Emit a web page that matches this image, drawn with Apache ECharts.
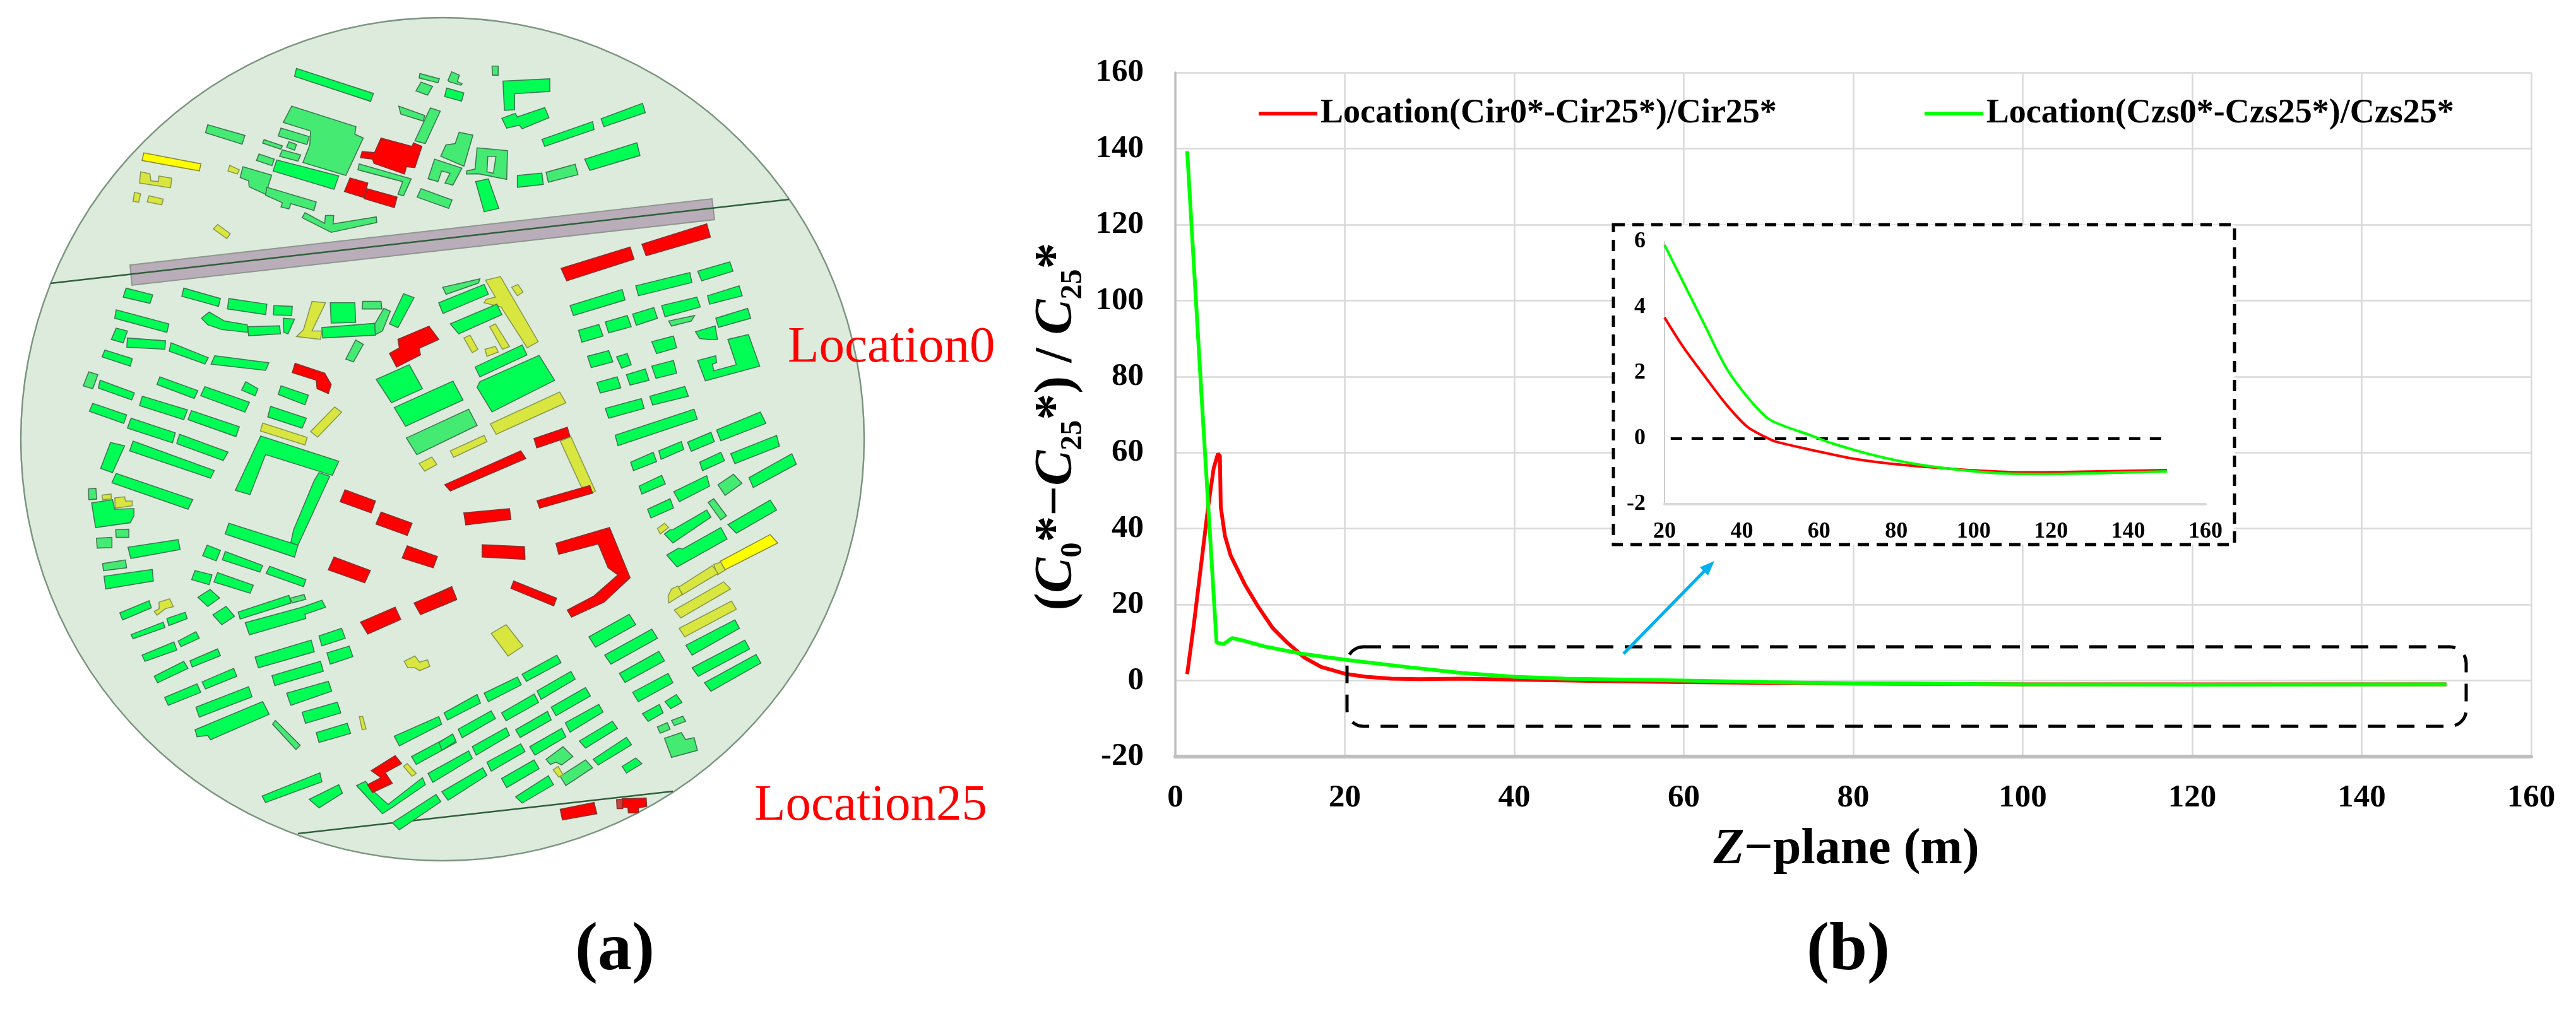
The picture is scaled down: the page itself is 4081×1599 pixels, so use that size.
<!DOCTYPE html>
<html><head><meta charset="utf-8">
<style>html,body{margin:0;padding:0;background:#fff}#c{width:4081px;height:1599px}</style>
<script src="https://cdn.jsdelivr.net/npm/echarts@6/dist/echarts.min.js"></script>
</head><body><div id="c"></div>
<script>
// ---- line chart data (b) ----
const mainCirX=[1.4,2.2,3.04,3.87,4.53,5.03,5.26,5.36,5.86,6.53,8.2,9.85,11.5,13.2,15.2,17.2,20,22.5,25.5,28.8,33.8,40,50,60,70,80,100,120,150];
const mainCirY=[1.7,15,30.4,45.7,55.9,59.7,59.1,45.7,38,32.9,25.3,19.2,13.8,10,6.1,3.6,1.8,1,0.5,0.4,0.5,0.25,-0.1,-0.4,-0.6,-0.8,-1,-1,-1];
const mainCzsX=[1.4,3.2,4.87,5.7,6.7,7.85,10.5,14.8,20,27.2,33.8,40,46,60,70,80,100,120,150];
const mainCzsY=[139.3,71,10,9.6,11.2,10.6,9,7.1,5.5,3.6,2,1,0.5,0,-0.4,-0.75,-1,-1.05,-1];
const insetCirX=[20,24.9,30.4,35.9,41.3,45.7,49,57.8,68.7,79.7,90.6,101.5,112.5,123.4,150];
const insetCirY=[3.69,2.78,1.9,1.05,0.37,0.07,-0.1,-0.34,-0.61,-0.78,-0.89,-0.98,-1.03,-1.02,-0.96];
const insetCzsX=[20,24.9,30.4,35.9,41.3,46.8,51.2,57.8,63.2,74.2,85.1,96.1,107,118,134.4,150];
const insetCzsY=[5.9,4.75,3.46,2.17,1.29,0.61,0.37,0.1,-0.14,-0.51,-0.78,-0.95,-1.06,-1.08,-1.05,-1];
const zeroX=[21.6,150], zeroY=[0,0];
const nameCir='Location(Cir0*-Cir25*)/Cir25*', nameCzs='Location(Czs0*-Czs25*)/Czs25*';

// ---- map (a): building outlines, each in one of four survey sheets ----
const sheetUnit=700/1568;
const sheetOrigin={nw:[30,20],ne:[700,20],sw:[30,690],se:[700,690]};
const nw=[
['G',985,198,1258,287,1248,315,978,226],['L',1423,216,1492,235,1487,249,1420,232],['L',1427,247,1468,262,1450,293,1409,278],
['L',968,332,1196,405,1192,432,1222,445,1160,578,1008,532,1032,470,1035,420,938,390],['L',930,410,1030,440,1022,468,920,438],
['L',870,451,935,473,929,485,865,463],['L',958,458,985,468,978,488,950,478],['L',935,487,1000,505,990,527,925,510],['L',852,502,906,520,898,543,843,525],
['G',915,523,1135,580,1118,627,902,562],['L',795,547,897,577,875,645,817,618,815,597,785,585],
['L',880,620,1055,672,1047,702,965,678,958,697,930,690,935,675,875,648],
['L',1015,710,1085,748,1088,720,1117,720,1115,750,1268,725,1270,745,1108,780,1005,728],
['L',670,398,802,436,792,467,662,426],['B',443,498,646,537,640,562,437,525],
['Y',432,565,465,572,468,597,495,600,497,580,542,588,538,622,428,605],['Y',410,638,432,643,425,673,405,670],['Y',462,650,512,662,507,682,455,672],
['Y',748,542,782,558,775,573,742,562],['Y',705,752,750,785,738,802,690,768],
['R',1285,445,1395,475,1400,462,1430,475,1405,550,1375,547,1368,573,1260,535,1255,520,1212,515,1218,493,1262,497],
['L',1207,537,1392,590,1365,650,1345,645,1362,600,1203,558],['R',1175,587,1238,605,1225,657,1155,635],['R',1235,625,1342,655,1332,692,1225,660],
['L',1348,332,1440,365,1435,385,1355,360],['L',1460,338,1495,350,1442,465,1405,455],
['L',1497,510,1515,470,1548,465,1562,425,1611,435,1579,545],['L',1475,520,1572,552,1540,612,1512,605,1530,570,1500,562,1487,600,1452,590],
['L',1427,625,1537,665,1525,695,1413,655],
['G',380,978,475,1002,465,1032,370,1010],['G',585,978,715,1015,708,1043,578,1007],['G',745,1015,880,1035,875,1072,740,1052],['G',905,1040,970,1043,968,1075,903,1073],
['Y',1040,1025,1088,1030,1040,1130,1075,1130,1070,1160,985,1150,1010,1125],['G',1105,1030,1192,1030,1195,1100,1108,1102],['L',1220,1025,1285,1025,1288,1052,1218,1052],
['L',1295,1050,1318,1060,1290,1130,1265,1143,1262,1107],['G',1075,1118,1262,1103,1265,1145,1078,1155],['G',1365,998,1402,1012,1345,1118,1315,1105],
['G',345,1055,532,1105,525,1135,340,1085],['G',675,1063,730,1095,810,1108,812,1135,720,1125,670,1108,648,1085],['G',812,1115,925,1112,928,1140,815,1147],
['G',938,1085,978,1088,955,1140,940,1135],['G',345,1120,385,1130,370,1172,328,1160],['G',385,1155,520,1165,518,1195,383,1188],['G',540,1172,672,1225,660,1247,533,1202],
['G',695,1218,887,1243,875,1270,682,1248],['G',305,1198,402,1228,395,1255,295,1222],['L',1195,1162,1222,1178,1187,1240,1160,1230],
['R',1455,1113,1490,1160,1420,1192,1425,1215,1340,1258,1315,1210,1350,1190,1345,1160],['R',980,1245,1085,1280,1108,1320,1098,1352,1058,1335,1055,1305,970,1278],
['L',248,1275,280,1285,262,1335,228,1325],['G',288,1305,410,1350,400,1375,282,1333],['G',500,1293,635,1342,622,1370,490,1320],['G',660,1328,818,1383,802,1418,645,1360],
['G',805,1310,848,1335,838,1360,790,1340],['G',930,1325,1027,1358,1015,1392,920,1355],['G',262,1387,382,1428,372,1458,250,1415],['G',438,1362,598,1410,585,1445,428,1395],
['G',612,1413,782,1470,770,1505,600,1445],['G',893,1398,1020,1440,1005,1475,883,1435],['Y',1120,1400,1145,1418,1060,1507,1035,1487],['Y',865,1457,1023,1508,1015,1535,857,1485],
['G',398,1440,555,1492,545,1527,385,1475],['G',570,1497,742,1560,725,1590,560,1530],['G',1268,1302,1385,1250,1432,1335,1322,1385],['G',1540,1308,1576,1375,1372,1468,1332,1402],
['L',1375,1510,1596,1408,1626,1465,1412,1569]
];
const ne=[
['L',22,240,35,210,62,222,55,245,72,252,68,258,25,245],['G',17,268,78,285,70,314,10,298],['L',178,190,200,190,200,222,180,222],
['G',217,243,383,235,383,280,258,288,258,345,222,347],['G',213,375,260,358,268,370,365,337,380,373,285,412,275,400,230,410],
['G',355,450,535,387,540,415,365,475],['G',565,377,712,322,722,355,575,405],['G',507,520,692,462,703,507,525,560],['L',370,567,473,538,483,575,378,602],['G',268,578,355,570,360,610,268,620],
['L',125,480,233,490,230,592,130,572,87,573,88,562,118,555],['H',163,510,192,510,183,570,160,565],['G',120,600,165,590,202,695,150,707],
['R',423,908,668,832,682,875,443,952],['R',710,822,940,750,953,797,725,863],['G',908,918,1022,885,1033,918,922,952],['G',688,970,880,923,887,958,698,1005],['G',455,1040,640,983,650,1020,467,1075],
['G',943,1005,1055,970,1066,1005,950,1035],['Y',155,950,208,937,342,1168,303,1190,210,1045,150,1030,157,1018,190,1010],['Y',248,975,270,965,288,992,268,1005],['L',3,975,135,945,130,960,15,1000],
['G',-11,1030,150,965,165,1000,4,1068],['G',30,1105,195,1035,213,1072,60,1140],['Y',170,1115,190,1105,240,1185,215,1195],['Y',78,1155,100,1145,128,1195,108,1207],['Y',153,1195,190,1185,200,1205,160,1220],
['G',118,1258,285,1180,302,1215,135,1293],['G',125,1330,135,1310,345,1217,400,1305,178,1417],['Y',172,1460,418,1347,440,1385,193,1497],['R',327,1512,445,1472,455,1505,337,1545],
['G',485,1128,557,1107,572,1148,497,1170],['G',580,1098,658,1075,672,1115,592,1137],['G',677,1070,752,1047,765,1085,690,1110],['G',780,1040,905,1010,917,1045,792,1080],['L',805,1095,897,1075,885,1095,815,1113],
['G',972,1085,1085,1050,1096,1085,982,1117],['G',900,1133,970,1112,978,1160,945,1160,915,1157],['G',745,1168,822,1148,833,1190,762,1210],['G',517,1220,592,1200,607,1240,530,1260],['G',620,1222,658,1210,672,1250,638,1262],
['G',1015,1160,1088,1143,1128,1255,935,1307,908,1235,972,1218,975,1242,960,1248,965,1272,1045,1250],['G',745,1255,822,1235,833,1280,760,1298],['G',655,1285,722,1265,735,1305,668,1322],['G',550,1313,622,1293,635,1332,562,1350],
['G',738,1362,862,1327,875,1362,748,1393],['G',580,1405,708,1370,718,1405,592,1440],['G',615,1500,895,1408,906,1443,625,1537],['G',975,1482,1130,1418,1150,1458,990,1520],['G',872,1525,955,1490,967,1523,885,1557]
];
const sw=[
['G',858,2,1135,92,1112,142,875,68,820,210,768,195],['G',1065,132,1103,145,990,390,965,380,975,335,1048,160],['G',745,312,990,390,978,432,732,350],
['G',325,25,375,37,332,132,290,117],['G',405,20,693,125,680,152,393,55],['G',345,135,617,228,600,262,330,168],['L',247,190,273,188,276,226,248,228],['Y',295,212,327,208,328,225,297,228],
['G',258,240,332,228,340,262,408,260,408,285,395,310,272,327],['Y',340,222,375,218,378,233,402,233,402,250,342,258],['L',343,335,390,333,390,362,345,362],['L',275,365,330,362,330,398,278,400],
['G',387,397,565,370,572,405,397,437],['L',297,455,378,442,382,470,300,480],['G',302,500,473,476,477,517,308,545],['G',668,390,715,408,700,445,652,427],['G',732,412,865,462,855,485,722,442],
['G',890,465,1018,512,1010,537,877,490],['G',625,480,685,495,675,530,613,512],['G',705,487,832,532,820,560,692,520],['G',678,547,712,577,670,607,635,575],['G',735,607,765,642,720,672,688,637],
['G',778,627,958,568,965,595,785,652],['L',962,578,1012,565,1018,582,970,595],['G',1075,585,1088,610,1015,635,1018,650,818,708,803,665,1005,610],['G',358,630,462,587,470,612,368,655],
['Y',497,592,535,580,548,608,520,615,490,638,480,625,498,615],['G',525,650,590,628,597,650,532,675],['G',398,707,512,663,518,682,405,722],['G',437,780,550,733,560,762,447,802],['G',565,730,628,697,640,720,575,750],
['G',480,855,585,802,600,827,492,878],['G',607,800,705,758,715,782,615,822],['G',517,930,632,882,645,912,530,958],['G',650,875,762,827,773,855,662,900],['G',628,965,815,892,827,928,640,1000],
['G',625,1045,865,945,888,990,680,1080,670,1065,632,1070],['G',838,787,1037,727,1048,768,850,825],['G',1065,712,1145,685,1158,720,1075,747],['G',1093,772,1172,748,1185,785,1105,812],['G',898,853,1070,802,1080,837,908,888],
['G',950,915,1098,873,1110,908,965,958],['G',1005,983,1130,947,1142,985,1017,1022],['G',1055,1055,1165,1022,1177,1058,1065,1090],['L',910,1012,998,1100,983,1115,900,1025],['Y',1208,998,1220,998,1232,1042,1218,1045],
['G',1332,1068,1490,998,1500,1025,1350,1102],['G',1393,1140,1540,1062,1552,1090,1410,1168],['G',863,1280,1068,1198,1075,1230,875,1303],['G',1030,1292,1135,1240,1148,1270,1065,1322],
['G',1198,1243,1230,1228,1260,1265,1310,1310,1432,1215,1442,1240,1325,1320,1290,1343],['R',1335,1137,1358,1165,1300,1197,1325,1235,1255,1268,1237,1240,1285,1215,1250,1190],['Y',1365,1175,1378,1165,1410,1200,1395,1210],
['G',1325,1375,1480,1275,1497,1300,1350,1400],['R',1140,235,1157,193,1265,233,1250,275],['R',1267,315,1285,272,1395,312,1378,355],['R',1360,435,1378,392,1485,430,1470,470],['R',1098,477,1118,432,1247,480,1227,523],
['R',1212,663,1335,610,1355,653,1238,705],['R',1402,595,1535,538,1553,583,1425,636],['Y',1420,100,1465,77,1483,103,1440,127],['Y',1367,802,1405,783,1422,805,1450,797,1458,820,1422,835,1405,825,1380,825]
];
const se=[
['Y',420,20,458,5,545,198,535,203,495,183],['G',670,95,750,60,762,93,680,125],['G',770,55,850,22,858,50,778,85],['G',915,95,990,60,1003,90,925,125],['G',1025,65,1188,0,1198,38,1040,100],
['G',1090,150,1242,65,1258,102,1105,185],['G',700,180,780,142,793,172,710,208],['G',823,200,940,143,950,180,843,235],['L',980,175,1035,138,1065,170,1005,213],['L',945,238,965,225,1010,285,990,300],
['G',730,262,810,225,822,258,742,293],['G',790,350,810,335,820,335,940,265,955,290,820,382],['Y',765,330,790,312,805,327,775,350],['G',1015,317,1165,230,1188,265,1045,347],
['G',798,425,840,400,855,403,990,327,1012,368,835,467],['B',988,447,1165,352,1192,382,1005,477],['Y',965,458,990,450,1005,478,978,495],['Y',838,540,960,462,980,490,855,565],['Y',803,570,815,545,838,535,853,565,805,595],
['Y',825,620,1000,520,1025,545,848,648],['Y',842,685,1028,588,1045,617,862,715],['G',866,745,1040,655,1056,685,888,780],['G',888,825,1075,727,1092,758,910,855],['G',932,878,1115,778,1132,808,955,908],
['G',522,715,665,635,688,672,545,752],['G',578,780,745,688,765,720,600,812],['G',630,845,770,767,790,800,650,877],['G',677,912,803,845,820,878,697,945],['G',792,945,832,920,852,948,812,970],['G',712,988,772,955,785,985,732,1015],
['L',815,1012,855,997,865,1015,825,1030],['L',765,1035,800,1020,810,1043,775,1057],['L',790,1075,850,1055,865,1080,895,1073,907,1118,815,1143],['G',640,1175,688,1145,710,1165,655,1198],['G',537,1150,655,1072,673,1098,555,1170],
['L',420,1210,510,1152,535,1180,440,1243],['Y',395,1187,413,1175,430,1205,415,1213],['L',370,1150,430,1105,465,1140,425,1170,405,1160,385,1168],['G',488,1085,605,1015,623,1040,510,1110],['G',438,1020,557,955,572,982,455,1053],
['G',388,965,510,895,527,925,405,995],['G',338,907,458,838,473,865,352,937],['G',285,848,408,780,423,807,300,873],['G',150,915,268,858,282,885,165,945],['G',8,985,125,920,137,950,20,1010],['G',212,985,328,918,343,948,228,1013],
['G',262,1045,375,980,388,1010,278,1072],['G',312,1105,425,1040,440,1070,330,1135],['G',58,1043,175,978,190,1005,72,1073],['G',108,1105,228,1038,240,1065,122,1135],['G',160,1160,280,1095,295,1122,175,1192],['G',212,1218,327,1152,345,1183,230,1250],
['G',262,1283,378,1208,396,1240,285,1305],['G',0,1265,145,1180,160,1207,22,1295],['G',-49,1200,95,1120,108,1147,-32,1232],['G',-10,1090,38,1060,50,1085,0,1118],['Y',175,703,228,672,288,748,235,783],['R',10,175,280,55,298,82,30,197],
['R',338,232,525,178,535,205,347,258],['R',78,275,240,260,245,298,85,318],['R',143,388,293,395,295,440,143,432],['R',405,383,595,327,668,505,575,592,460,645,445,620,540,570,625,495,590,470,555,385,415,422],['R',255,517,407,578,397,605,245,543],
['R',-10,560,35,537,52,580,0,605],['R',420,1327,540,1303,550,1343,428,1365],['D',620,1293,642,1292,642,1325,622,1325],['R',640,1290,725,1287,727,1317,698,1322,697,1340,662,1340,660,1320,640,1320],['Y',30,55,150,0,160,22,42,78]
];
const landDisc=[701,696,668];
const roadOutline=[206,420,1128,315,1132,348,209,452];
const sectionLines=[[80,449,1250,316],[472,1321,1066,1254]];

const buildingFill={G:'#00FF55',L:'#45EA73',Y:'#D9E63F',B:'#FFFF00',R:'#FF0000',D:'#C8413A',H:'#DDEBDD'};
const buildingStroke={G:'#3C7A50',L:'#3C7A50',Y:'#8A9A50',B:'#8A8A30',R:'#8A3030',D:'#8A3030',H:'#3C7A50'};

const buildings=[];
for(const [key,list] of [['nw',nw],['ne',ne],['sw',sw],['se',se]]){
  const o=sheetOrigin[key];
  for(const b of list){
    const pts=[];
    for(let i=1;i<b.length;i+=2) pts.push([o[0]+b[i]*sheetUnit,o[1]+b[i+1]*sheetUnit]);
    buildings.push({k:b[0],pts});
  }
}
const zip=(a,b)=>a.map((v,i)=>[v,b[i]]);
const serif='"Liberation Serif"';
const chart=echarts.init(document.getElementById('c'),null,{renderer:'canvas'});

const mainAxisLabel={fontFamily:serif,fontWeight:'bold',fontSize:51,color:'#000'};
const insetAxisLabel={fontFamily:serif,fontWeight:'bold',fontSize:36,color:'#000'};

chart.setOption({
  animation:false,
  backgroundColor:'#fff',
  legend:{
    data:[nameCir,nameCzs],left:1994,top:153,padding:0,itemWidth:93,itemHeight:6,itemGap:234,icon:'rect',
    textStyle:{fontFamily:serif,fontWeight:'bold',fontSize:54,color:'#000',padding:[0,0,0,0]},itemStyle:{borderWidth:0},selectedMode:false
  },
  grid:[
    {left:1862,top:115,width:2148,height:1084},
    {left:2637,top:383,width:857,height:416,z:10},
    {left:0,top:0,width:1400,height:1599}
  ],
  xAxis:[
    {type:'value',gridIndex:0,min:0,max:160,interval:20,
     axisLine:{onZero:false,lineStyle:{color:'#BFBFBF',width:6}},axisTick:{show:false},
     axisLabel:{...mainAxisLabel,margin:40},splitLine:{show:true,lineStyle:{color:'#D9D9D9',width:2.5}}},
    {type:'value',gridIndex:1,min:20,max:160,interval:20,z:12,
     axisLine:{onZero:false,lineStyle:{color:'#D9D9D9',width:4}},axisTick:{show:false},
     axisLabel:{...insetAxisLabel,margin:26},splitLine:{show:false}},
    {type:'value',gridIndex:2,min:0,max:1400,show:false}
  ],
  yAxis:[
    {type:'value',gridIndex:0,min:-20,max:160,interval:20,
     axisLine:{show:true,onZero:false,lineStyle:{color:'#BFBFBF',width:3.5}},axisTick:{show:false},
     axisLabel:{...mainAxisLabel,margin:50},splitLine:{show:true,lineStyle:{color:'#D9D9D9',width:2.5}}},
    {type:'value',gridIndex:1,min:-2,max:6,interval:2,z:12,
     axisLine:{show:true,onZero:false,lineStyle:{color:'#CCCCCC',width:2}},axisTick:{show:false},
     axisLabel:{...insetAxisLabel,margin:30},splitLine:{show:false}},
    {type:'value',gridIndex:2,min:0,max:1599,inverse:true,show:false}
  ],
  series:[
    {type:'custom',name:'land',xAxisIndex:2,yAxisIndex:2,z:1,silent:true,data:[[landDisc[0],landDisc[1]]],
     renderItem(p,api){
       const c=api.coord([landDisc[0],landDisc[1]]);
       const e=api.coord([landDisc[0]+landDisc[2],landDisc[1]]);
       const pts=[];for(let i=0;i<roadOutline.length;i+=2)pts.push(api.coord([roadOutline[i],roadOutline[i+1]]));
       const lines=sectionLines.map(l=>{const a=api.coord([l[0],l[1]]),b=api.coord([l[2],l[3]]);
         return {type:'line',shape:{x1:a[0],y1:a[1],x2:b[0],y2:b[1]},style:{stroke:'#2F5F3A',lineWidth:2.5}};});
       return {type:'group',children:[
         {type:'circle',shape:{cx:c[0],cy:c[1],r:e[0]-c[0]},style:{fill:'#DDEBDD',stroke:'#7C957F',lineWidth:2.5}},
         {type:'polygon',shape:{points:pts},style:{fill:'#B8ADB8',stroke:'#8F9590',lineWidth:2}},
         ...lines
       ]};
     }},
    {type:'custom',name:'buildings',xAxisIndex:2,yAxisIndex:2,z:2,silent:true,
     data:buildings.map((b,i)=>[b.pts[0][0],b.pts[0][1],i]),
     renderItem(p,api){
       const b=buildings[api.value(2)];
       return {type:'polygon',shape:{points:b.pts.map(q=>api.coord(q))},
         style:{fill:buildingFill[b.k],stroke:buildingStroke[b.k],lineWidth:1.6}};
     }},
    {type:'line',name:nameCir,xAxisIndex:0,yAxisIndex:0,z:3,data:zip(mainCirX,mainCirY),showSymbol:false,smooth:false,
     lineStyle:{color:'#FF0000',width:6},itemStyle:{color:'#FF0000'}},
    {type:'line',name:nameCzs,xAxisIndex:0,yAxisIndex:0,z:4,data:zip(mainCzsX,mainCzsY),showSymbol:false,smooth:false,
     lineStyle:{color:'#00FF00',width:6},itemStyle:{color:'#00FF00'}},
    {type:'line',name:'zero',xAxisIndex:1,yAxisIndex:1,z:12,data:zip(zeroX,zeroY),showSymbol:false,
     lineStyle:{color:'#000',width:4,type:[18,15]}},
    {type:'line',name:'insetCir',xAxisIndex:1,yAxisIndex:1,z:13,data:zip(insetCirX,insetCirY),showSymbol:false,smooth:0.3,
     lineStyle:{color:'#FF0000',width:4}},
    {type:'line',name:'insetCzs',xAxisIndex:1,yAxisIndex:1,z:14,data:zip(insetCzsX,insetCzsY),showSymbol:false,smooth:0.3,
     lineStyle:{color:'#00FF00',width:4}}
  ],
  graphic:{elements:[
    {type:'rect',z:6,shape:{x:2556,y:356,width:984,height:507},style:{fill:'#fff',stroke:'#000',lineWidth:5,lineDash:[18,12]}},
    {type:'rect',z:6,shape:{x:2134,y:1025,width:1773,height:126,r:26},style:{fill:'none',stroke:'#000',lineWidth:5,lineDash:[28,18]}},
    {type:'line',z:6,shape:{x1:2572,y1:1036,x2:2703,y2:902},style:{stroke:'#00B0F0',lineWidth:5}},
    {type:'polygon',z:6,shape:{points:[[2716,889],[2693,899],[2706,912]]},style:{fill:'#00B0F0'}},
    {type:'text',z:20,x:1248,y:552,style:{text:'Location0',fontFamily:serif,fontSize:81,fill:'#FF0000',textVerticalAlign:'middle'}},
    {type:'text',z:20,x:1195,y:1278,style:{text:'Location25',fontFamily:serif,fontSize:81,fill:'#FF0000',textVerticalAlign:'middle'}},
    {type:'text',z:20,x:974,y:1508,style:{text:'(a)',fontFamily:serif,fontWeight:'bold',fontSize:108,fill:'#000',textAlign:'center',textVerticalAlign:'middle'}},
    {type:'text',z:20,x:2928,y:1508,style:{text:'(b)',fontFamily:serif,fontWeight:'bold',fontSize:108,fill:'#000',textAlign:'center',textVerticalAlign:'middle'}},
    {type:'text',z:20,x:2925,y:1347,style:{text:'{i|Z}{n|\u2212plane (m)}',textAlign:'center',textVerticalAlign:'middle',
      rich:{i:{fontFamily:serif,fontWeight:'bold',fontStyle:'italic',fontSize:80,fill:'#000'},n:{fontFamily:serif,fontWeight:'bold',fontSize:80,fill:'#000'}}}},
    {type:'text',z:20,x:1675,y:676,rotation:Math.PI/2,style:{
      text:'{n|(}{c|C}{s|0}{n|*\u2212}{c|C}{s|25}{n|*) / }{c|C}{s|25}{n|*}',textAlign:'center',textVerticalAlign:'middle',
      rich:{
        n:{fontFamily:serif,fontWeight:'bold',fontSize:84,fill:'#000',lineHeight:100},
        c:{fontFamily:serif,fontWeight:'bold',fontStyle:'italic',fontSize:84,fill:'#000',lineHeight:100},
        s:{fontFamily:serif,fontWeight:'bold',fontSize:48,fill:'#000',lineHeight:100,verticalAlign:'bottom'}
      }}}
  ]}
});
</script></body></html>
